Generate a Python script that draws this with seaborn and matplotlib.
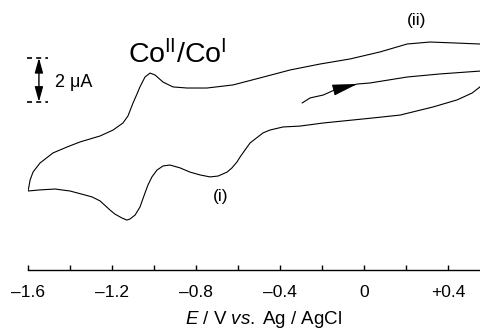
import numpy as np
import pandas as pd
import matplotlib
matplotlib.use('Agg')
import matplotlib.pyplot as plt
import seaborn as sns
from matplotlib.ticker import MultipleLocator, FixedLocator, FixedFormatter


# Potencial (V vs. Ag/AgCl) in tok (uA), prebrano s slike
# 1) zacetek pri -0.3 V proti pozitivnim potencialom
potencial_1 = [-0.295, -0.257, -0.195, -0.129, -0.033, 0.029, 0.205, 0.362, 0.552, 0.600]
tok_1 = [3.50, 3.73, 3.86, 4.14, 4.36, 4.41, 4.68, 4.82, 4.95, 5.05]

# 2) povratek do -1.6 V (spodnja veja)
potencial_2 = [0.581, 0.552, 0.514, 0.443, 0.329, 0.171, 0.043, -0.195, -0.305, -0.386,
               -0.448, -0.481, -0.519, -0.543, -0.567, -0.590, -0.605, -0.629, -0.652, -0.695,
               -0.733, -0.781, -0.829, -0.876, -0.924, -0.957, -0.986, -1.010, -1.029, -1.043,
               -1.067, -1.090, -1.114, -1.129, -1.152, -1.186, -1.210, -1.257, -1.295, -1.329,
               -1.400, -1.471, -1.543, -1.600]
tok_2 = [4.64, 4.23, 3.95, 3.64, 3.32, 2.95, 2.82, 2.59, 2.45, 2.41,
         2.27, 2.14, 1.86, 1.68, 1.36, 1.05, 0.82, 0.55, 0.36, 0.18,
         0.14, 0.23, 0.36, 0.55, 0.68, 0.64, 0.45, 0.14, -0.23, -0.59,
         -1.23, -1.59, -1.77, -1.82, -1.73, -1.55, -1.36, -0.95, -0.77, -0.68,
         -0.50, -0.41, -0.45, -0.50]

# 3) od -1.6 V nazaj proti pozitivnim (zgornja veja)
potencial_3 = [-1.595, -1.590, -1.576, -1.543, -1.481, -1.414, -1.352, -1.257, -1.195, -1.148,
               -1.124, -1.100, -1.081, -1.067, -1.043, -1.019, -0.995, -0.957, -0.910, -0.843,
               -0.748, -0.624, -0.495, -0.352, -0.210, -0.067, 0.076, 0.205, 0.314, 0.424,
               0.552, 0.600]
tok_3 = [-0.27, 0.00, 0.36, 0.77, 1.23, 1.50, 1.73, 2.00, 2.27, 2.59,
         2.91, 3.50, 3.91, 4.23, 4.68, 4.86, 4.77, 4.45, 4.23, 4.18,
         4.18, 4.32, 4.64, 5.00, 5.27, 5.50, 5.82, 6.18, 6.27, 6.23,
         6.18, 6.18]

tick_vrednosti = [-1.6, -1.2, -0.8, -0.4, 0.0, 0.4]
tick_oznake = ['\u20131.6', '\u20131.2', '\u20130.8', '\u20130.4', '0', '+0.4']

df = pd.DataFrame({
    'E': potencial_1 + potencial_2 + potencial_3,
    'I': tok_1 + tok_2 + tok_3,
})

sns.set_theme(style='white')
plt.rcParams['font.family'] = ['Liberation Sans', 'DejaVu Sans']
plt.rcParams['text.color'] = 'black'
plt.rcParams['mathtext.fontset'] = 'custom'
plt.rcParams['mathtext.rm'] = 'Liberation Sans'
plt.rcParams['mathtext.it'] = 'Liberation Sans:italic'

fig = plt.figure(figsize=(4.8, 3.29), dpi=100)
ax = fig.add_axes([28 / 480, 59 / 329, 452 / 480, 270 / 329])

sns.lineplot(data=df, x='E', y='I', sort=False, estimator=None, color='black',
             linewidth=0.8, ax=ax)

ax.set_xlim(-1.6, 0.552)
ax.set_ylim(-4.09, 8.18)

# puscica smeri (samo konica, crta je krivulja sama)
ax.annotate('', xy=(-0.033, 4.36), xytext=(-0.133, 4.12),
            arrowprops=dict(arrowstyle='-|>,head_length=1.6,head_width=0.36',
                            color='black', lw=0.6, shrinkA=0, shrinkB=0,
                            mutation_scale=10))

# merilo 2 uA
for y in [5.55, 3.55]:
    ax.plot([-1.605, -1.505], [y, y], color='black', lw=1.2, dashes=(3, 2.5),
            clip_on=False)
ax.annotate('', xy=(-1.548, 5.55), xytext=(-1.548, 3.55),
            arrowprops=dict(arrowstyle='<|-|>,head_length=0.9,head_width=0.25',
                            color='black', lw=1.0, shrinkA=0, shrinkB=0,
                            mutation_scale=10))
ax.text(-1.471, 4.45, '2 \u03bcA', fontsize=13, ha='left', va='center')

ax.text(-1.124, 5.32, r'Co$^{\mathrm{II}}$/Co$^{\mathrm{I}}$', fontsize=20.5,
        ha='left', va='baseline')
ax.text(0.252, 7.27, '(ii)', fontsize=12.5, ha='center', va='center')
ax.text(-0.681, -0.77, '(i)', fontsize=12.5, ha='center', va='center')

for s in ['left', 'top', 'right']:
    ax.spines[s].set_visible(False)
ax.spines['bottom'].set_color('black')
ax.spines['bottom'].set_linewidth(1.0)

ax.xaxis.set_major_locator(FixedLocator(tick_vrednosti))
ax.xaxis.set_major_formatter(FixedFormatter(tick_oznake))
ax.xaxis.set_minor_locator(MultipleLocator(0.2))
ax.tick_params(axis='x', which='both', direction='in', length=3.6, width=1.0,
               color='black', bottom=True)
ax.tick_params(axis='x', which='major', labelsize=12.5, pad=11, labelcolor='black')
ax.set_yticks([])
ax.set_ylabel('')

ax.set_xlabel(r'$\it{E}$ / V $\it{vs.}\;$Ag / AgCl', fontsize=13.5, color='black')
ax.xaxis.set_label_coords(0.522, -0.146)
ax.xaxis.label.set_va('top')

fig.savefig('out.png', dpi=100)
plt.close(fig)
